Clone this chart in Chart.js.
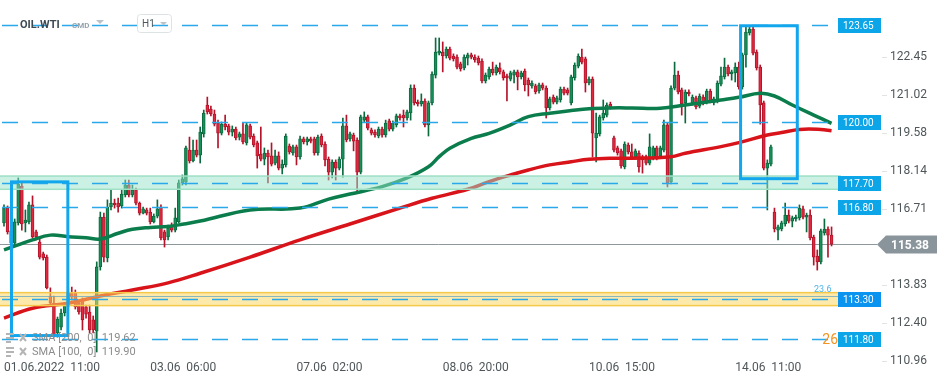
<!DOCTYPE html>
<html>
<head>
<meta charset="utf-8">
<script src="https://cdn.jsdelivr.net/npm/chart.js@4.4.1/dist/chart.umd.min.js"></script>
<style>
  html, body { margin: 0; padding: 0; background: #fff; }
  #wrap { width: 949px; height: 385px; }
</style>
</head>
<body>
<div id="wrap"><canvas id="chart" width="949" height="385"></canvas></div>
<script>
const FONT = 'Roboto, "Noto Sans", sans-serif';

// OIL.WTI, H1 candles
const opens = [
  116.18, 116.74, 115.88, 115.42, 116.18, 117.57, 116.18, 116.22, 116.86, 115.84,
  115.46, 115.01, 114.89, 113.42, 113.16, 112.03, 112.25, 112.78, 113.04, 113.54,
  113.54, 113.16, 113.27, 113.01, 112.82, 112.52, 112.10, 114.52, 116.40, 114.86,
  116.78, 116.93, 116.93, 116.82, 117.24, 117.61, 117.24, 117.42, 116.93, 116.55,
  116.67, 116.59, 116.22, 116.44, 116.78, 115.84, 115.65, 116.10, 115.91, 116.22,
  117.69, 117.73, 118.93, 118.52, 118.93, 118.74, 119.54, 120.63, 120.48, 120.29,
  119.95, 119.57, 119.91, 119.84, 119.61, 119.72, 119.42, 119.54, 119.20, 119.84,
  119.46, 119.20, 118.78, 118.59, 118.82, 118.71, 118.44, 118.71, 118.25, 118.37,
  119.08, 118.82, 119.05, 118.67, 119.35, 119.24, 119.35, 119.35, 118.82, 119.46,
  119.16, 118.59, 118.10, 118.48, 118.25, 118.59, 119.84, 119.35, 119.50, 119.31,
  118.10, 120.06, 120.18, 119.69, 119.61, 119.46, 119.72, 119.50, 120.03, 119.72,
  119.88, 120.22, 120.25, 120.14, 120.33, 121.27, 120.74, 120.67, 120.78, 119.88,
  120.71, 121.76, 122.59, 122.63, 122.48, 122.74, 122.48, 122.44, 122.18, 122.03,
  122.40, 122.52, 122.44, 122.40, 122.29, 121.54, 121.69, 121.99, 121.84, 122.03,
  121.88, 121.73, 121.61, 121.76, 121.88, 121.69, 121.91, 121.57, 121.35, 121.35,
  121.16, 121.39, 121.27, 120.52, 120.93, 120.74, 120.82, 121.23, 121.20, 120.71,
  121.65, 122.10, 122.44, 122.37, 121.46, 121.61, 119.39, 119.54, 120.14, 120.25,
  120.67, 119.39, 119.01, 118.90, 118.29, 119.12, 118.86, 118.67, 118.82, 118.67,
  118.67, 118.44, 118.63, 119.01, 118.71, 118.93, 119.88, 117.73, 121.27, 121.76,
  121.20, 120.71, 121.12, 120.71, 120.90, 120.59, 120.93, 120.74, 121.16, 120.71,
  120.78, 121.42, 121.69, 122.06, 121.80, 121.84, 122.06, 121.31, 122.52, 123.35,
  123.50, 122.63, 122.06, 120.71, 118.25, 118.40, 116.59, 115.91, 115.95, 116.14,
  116.48, 116.25, 116.33, 116.37, 116.71, 116.40, 116.48, 115.65, 114.93, 114.71,
  115.80, 115.95, 115.72
];
const highs = [
  116.86, 116.82, 115.99, 116.33, 117.88, 117.69, 116.67, 116.97, 117.20, 115.91,
  115.61, 115.08, 114.97, 113.73, 113.42, 112.63, 112.93, 113.12, 113.73, 113.76,
  113.65, 113.27, 113.35, 113.08, 113.08, 112.67, 114.71, 116.59, 116.55, 117.05,
  117.42, 117.08, 117.12, 117.42, 117.80, 117.80, 117.61, 117.50, 116.97, 116.78,
  116.74, 116.74, 116.52, 117.05, 116.86, 115.91, 116.10, 116.18, 116.74, 117.80,
  117.99, 119.08, 119.42, 119.31, 119.31, 119.80, 120.44, 120.93, 120.59, 120.44,
  120.06, 119.99, 120.25, 119.91, 119.84, 119.80, 119.61, 119.95, 119.95, 119.91,
  119.54, 119.27, 119.80, 119.01, 118.93, 119.20, 118.93, 118.86, 118.56, 119.54,
  119.16, 119.12, 119.12, 119.46, 119.42, 119.42, 119.42, 119.42, 119.50, 119.54,
  119.24, 118.67, 118.56, 118.56, 118.67, 120.14, 120.25, 119.61, 119.57, 119.39,
  120.25, 120.37, 120.25, 119.76, 119.69, 119.80, 119.80, 120.06, 120.10, 120.03,
  120.29, 120.29, 120.44, 120.44, 121.39, 121.39, 120.82, 121.05, 120.86, 120.78,
  121.88, 123.16, 123.16, 123.01, 122.82, 122.82, 122.56, 122.52, 122.25, 122.52,
  122.59, 122.59, 122.52, 122.48, 122.37, 121.84, 122.06, 122.25, 122.14, 122.22,
  121.95, 121.80, 121.91, 121.95, 121.95, 121.91, 121.99, 121.65, 121.54, 121.42,
  121.46, 121.46, 121.35, 120.93, 121.01, 120.97, 121.31, 121.31, 121.27, 121.76,
  122.22, 122.56, 122.74, 122.44, 121.69, 121.69, 120.33, 120.25, 120.82, 120.71,
  120.74, 119.46, 119.08, 118.97, 119.24, 119.20, 119.16, 118.97, 118.90, 118.74,
  118.74, 119.54, 119.08, 119.08, 119.08, 120.06, 119.95, 121.35, 122.25, 121.91,
  121.27, 121.20, 121.20, 121.01, 120.97, 121.05, 121.01, 121.23, 121.23, 120.93,
  121.54, 122.06, 122.40, 122.14, 121.95, 122.22, 122.25, 122.59, 123.57, 123.57,
  123.57, 122.71, 122.14, 120.78, 118.56, 119.12, 116.74, 116.10, 116.25, 116.93,
  116.67, 116.44, 116.48, 116.86, 116.82, 116.55, 116.67, 115.72, 115.16, 115.95,
  116.33, 116.03, 116.03
];
const lows = [
  116.06, 115.76, 115.31, 115.35, 116.10, 115.91, 115.84, 116.14, 115.61, 115.54,
  114.82, 114.78, 113.69, 113.08, 111.87, 111.87, 112.14, 112.67, 112.97, 113.27,
  112.93, 112.74, 112.14, 112.59, 112.03, 112.03, 111.31, 114.40, 114.71, 114.71,
  116.67, 116.74, 116.59, 116.74, 117.16, 117.16, 117.16, 116.86, 116.48, 116.52,
  116.48, 116.14, 116.18, 116.37, 115.54, 115.27, 115.54, 115.84, 115.84, 116.18,
  117.61, 117.61, 118.44, 118.48, 118.67, 118.44, 119.42, 120.29, 120.22, 119.84,
  119.01, 119.50, 119.69, 119.50, 119.46, 119.31, 119.31, 119.16, 119.12, 119.35,
  119.05, 118.25, 118.52, 118.37, 117.69, 118.33, 118.37, 118.18, 118.03, 118.29,
  118.78, 118.74, 118.37, 118.59, 119.16, 119.12, 119.20, 118.74, 118.74, 119.05,
  118.33, 117.80, 117.88, 117.80, 118.18, 117.91, 119.24, 119.27, 118.90, 117.31,
  118.03, 119.99, 119.69, 119.50, 119.42, 119.39, 119.42, 119.42, 119.65, 119.65,
  119.80, 120.06, 119.80, 120.06, 120.06, 120.63, 120.59, 120.59, 119.80, 119.46,
  120.63, 121.65, 122.52, 121.88, 122.40, 122.33, 122.29, 121.99, 121.91, 121.95,
  122.14, 122.37, 122.25, 122.14, 121.46, 121.46, 121.61, 121.76, 121.76, 121.80,
  121.57, 120.78, 121.54, 121.46, 121.20, 121.61, 121.16, 120.97, 121.27, 121.05,
  121.08, 121.20, 120.14, 120.44, 120.67, 120.67, 120.74, 121.01, 121.01, 120.63,
  121.57, 122.03, 122.18, 121.12, 121.39, 118.67, 118.48, 119.46, 120.06, 120.18,
  120.48, 118.86, 118.74, 118.25, 118.22, 118.78, 118.59, 118.59, 118.10, 118.06,
  118.37, 118.37, 118.56, 118.56, 118.63, 118.86, 117.54, 117.65, 121.20, 121.05,
  120.25, 119.95, 120.97, 120.63, 120.48, 120.52, 120.63, 120.67, 120.71, 120.63,
  120.71, 121.35, 121.61, 121.73, 121.57, 121.50, 121.23, 121.23, 122.06, 123.27,
  122.52, 121.95, 119.91, 118.18, 116.67, 118.33, 115.84, 115.54, 115.88, 116.06,
  116.18, 116.03, 116.25, 116.29, 116.33, 115.84, 115.54, 114.59, 114.40, 114.63,
  115.72, 114.89, 115.31
];
const closes = [
  116.74, 115.84, 115.42, 116.22, 117.65, 116.14, 116.29, 116.86, 115.65, 115.65,
  114.89, 114.86, 113.73, 113.16, 111.95, 112.55, 112.78, 113.04, 113.54, 113.38,
  113.01, 112.82, 112.52, 112.74, 112.14, 112.14, 114.52, 116.40, 114.89, 116.78,
  116.93, 116.86, 116.78, 117.27, 117.61, 117.24, 117.42, 116.93, 116.55, 116.71,
  116.55, 116.22, 116.44, 116.71, 115.61, 115.54, 115.99, 115.91, 116.37, 117.69,
  117.84, 119.01, 118.52, 118.93, 118.74, 119.61, 120.33, 120.37, 120.29, 119.91,
  119.57, 119.91, 119.80, 119.61, 119.72, 119.39, 119.54, 119.24, 119.88, 119.42,
  119.12, 118.71, 118.59, 118.82, 118.67, 118.40, 118.71, 118.25, 118.40, 119.46,
  118.86, 119.05, 118.67, 119.35, 119.24, 119.35, 119.27, 118.82, 119.42, 119.12,
  118.56, 118.10, 118.48, 118.25, 118.59, 119.84, 119.31, 119.54, 119.27, 118.10,
  120.18, 120.18, 119.76, 119.57, 119.50, 119.72, 119.50, 119.95, 119.72, 119.95,
  120.22, 120.14, 120.14, 120.37, 121.27, 120.71, 120.67, 120.78, 119.88, 120.71,
  121.80, 122.63, 122.67, 122.48, 122.74, 122.40, 122.37, 122.06, 121.99, 122.44,
  122.52, 122.44, 122.33, 122.22, 121.54, 121.76, 121.99, 121.84, 122.06, 121.88,
  121.65, 121.65, 121.84, 121.88, 121.69, 121.84, 121.39, 121.39, 121.46, 121.12,
  121.39, 121.27, 120.52, 120.86, 120.74, 120.90, 121.23, 121.08, 121.08, 121.69,
  122.14, 122.48, 122.25, 121.46, 121.61, 119.57, 119.57, 120.18, 120.33, 120.63,
  120.56, 118.93, 118.82, 118.33, 119.16, 118.86, 118.67, 118.90, 118.29, 118.56,
  118.44, 119.05, 119.01, 118.63, 119.01, 119.88, 117.69, 121.27, 121.76, 121.12,
  120.67, 121.12, 121.05, 120.93, 120.56, 120.97, 120.71, 121.16, 120.78, 120.86,
  121.46, 121.73, 122.06, 121.80, 121.88, 122.06, 121.31, 122.52, 123.38, 123.50,
  122.59, 122.03, 120.63, 118.25, 118.44, 119.05, 115.95, 116.03, 116.18, 116.48,
  116.25, 116.37, 116.40, 116.74, 116.40, 116.48, 115.61, 114.89, 114.71, 115.88,
  115.95, 115.72, 115.38
];

// moving averages, read at a few candles
const sma100At = [0, 8, 13, 18, 23, 27, 32, 36, 41, 46, 50, 55, 69, 83, 91, 97, 106, 113, 119, 122, 125, 131, 136, 142, 147, 153, 159, 164, 170, 176, 184, 191, 201, 206, 212, 216, 221, 227, 232];
const sma100 = [115.16, 115.54, 115.72, 115.66, 115.62, 115.57, 115.79, 115.94, 116.01, 116.05, 116.13, 116.25, 116.67, 116.74, 117.08, 117.27, 117.55, 117.88, 118.30, 118.68, 119.00, 119.37, 119.56, 119.88, 120.19, 120.32, 120.42, 120.49, 120.52, 120.52, 120.51, 120.63, 120.82, 120.92, 121.07, 120.97, 120.63, 120.25, 119.94];
const sma200At = [0, 8, 18, 27, 36, 46, 55, 69, 83, 97, 111, 120, 130, 136, 142, 147, 153, 159, 164, 170, 176, 187, 191, 201, 206, 214, 218, 223, 229, 232];
const sma200 = [112.59, 112.96, 113.15, 113.42, 113.65, 113.92, 114.28, 114.89, 115.54, 116.14, 116.74, 117.11, 117.45, 117.74, 117.99, 118.18, 118.37, 118.49, 118.58, 118.62, 118.62, 118.68, 118.81, 119.06, 119.21, 119.50, 119.59, 119.71, 119.71, 119.66];

const timeTicks = [0, 41, 82, 123, 164, 205];
const timeLabels = ['01.06.2022  11:00', '03.06  06:00', '07.06  02:00', '08.06  20:00', '10.06  15:00', '14.06  11:00'];
const priceTicks = [110.96, 112.40, 113.83, 116.71, 118.14, 119.58, 121.02, 122.45];

const levels = [123.65, 120.00, 117.70, 116.80, 113.30, 111.80];
const lastPrice = 115.38;
const greenZone = [117.45, 117.95];
const yellowZone = [113.06, 113.55];
const fib236 = 113.42;
const boxes = [[2.1, 17.9, 111.93, 117.73], [206.5, 222.4, 117.85, 123.62]];

const GREEN = '#17905a', GREEN_D = '#0b6b3f';
const RED = '#e0283f', RED_D = '#b3142a';
const idx = opens.map((_, i) => i);
const up = idx.map(i => closes[i] >= opens[i]);

function rrect(ctx, x, y, w, h, r) {
  ctx.beginPath();
  ctx.moveTo(x + r, y);
  ctx.arcTo(x + w, y, x + w, y + h, r);
  ctx.arcTo(x + w, y + h, x, y + h, r);
  ctx.arcTo(x, y + h, x, y, r);
  ctx.arcTo(x, y, x + w, y, r);
  ctx.closePath();
}

const overlay = {
  id: 'overlay',
  beforeDatasetsDraw(chart) {
    const { ctx, chartArea: a, scales: { y } } = chart;
    ctx.save();
    ctx.strokeStyle = '#8d979c';
    ctx.lineWidth = 1;
    const py = Math.round(y.getPixelForValue(lastPrice)) + 0.5;
    ctx.beginPath(); ctx.moveTo(a.left, py); ctx.lineTo(877, py); ctx.stroke();
    ctx.restore();
  },
  afterDatasetsDraw(chart) {
    const { ctx, chartArea: a, scales: { x, y } } = chart;
    ctx.save();
    // zones
    const zone = (lo, hi, fill, edge) => {
      const t = y.getPixelForValue(hi), b = y.getPixelForValue(lo);
      ctx.fillStyle = fill;
      ctx.fillRect(a.left, t, a.right + 2 - a.left, b - t);
      ctx.strokeStyle = edge; ctx.lineWidth = 1.5;
      ctx.strokeRect(a.left - 2, t, a.right + 4 - a.left, b - t);
    };
    zone(greenZone[0], greenZone[1], 'rgba(150,228,200,0.5)', '#9ee0c6');
    zone(yellowZone[0], yellowZone[1], 'rgba(252,216,100,0.55)', '#f4c94a');
    // fib level
    ctx.strokeStyle = 'rgba(110,170,190,0.8)'; ctx.lineWidth = 1;
    let fy = Math.round(y.getPixelForValue(fib236)) + 0.5;
    ctx.beginPath(); ctx.moveTo(a.left, fy); ctx.lineTo(a.right, fy); ctx.stroke();
    // dashed levels
    ctx.strokeStyle = '#29a9ea'; ctx.lineWidth = 1.5;
    ctx.setLineDash([16, 14]);
    levels.forEach(v => {
      const ly = Math.round(y.getPixelForValue(v)) + 0.5;
      ctx.beginPath(); ctx.moveTo(a.left + 2, ly); ctx.lineTo(a.right, ly); ctx.stroke();
    });
    ctx.setLineDash([]);
    // boxes
    ctx.strokeStyle = '#12a6ec'; ctx.lineWidth = 3;
    boxes.forEach(([i0, i1, p0, p1]) => {
      const x0 = x.getPixelForValue(i0), x1 = x.getPixelForValue(i1);
      const y0 = y.getPixelForValue(p1), y1 = y.getPixelForValue(p0);
      ctx.strokeRect(x0, y0, x1 - x0, y1 - y0);
    });
    ctx.restore();
  },
  afterDraw(chart) {
    const { ctx, chartArea: a, scales: { y } } = chart;
    ctx.save();
    ctx.textBaseline = 'middle';
    // price tick marks
    ctx.strokeStyle = '#e3e3e3'; ctx.lineWidth = 1;
    priceTicks.forEach(v => {
      const ty = Math.round(y.getPixelForValue(v)) + 0.5;
      ctx.beginPath(); ctx.moveTo(882, ty); ctx.lineTo(887, ty); ctx.stroke();
    });
    // level tags
    ctx.font = '10px ' + FONT;
    levels.forEach(v => {
      const ty = y.getPixelForValue(v);
      ctx.fillStyle = v === 113.30 ? '#0b93f0' : '#0ba5e8';
      ctx.fillRect(a.right, Math.round(ty) - 7, 43, 15);
      ctx.fillStyle = '#fff';
      ctx.fillText(v.toFixed(2), a.right + 5, Math.round(ty) + 1);
    });
    // last price tag
    const ly = Math.round(y.getPixelForValue(lastPrice)) + 0.5;
    ctx.fillStyle = '#8a959b';
    ctx.beginPath();
    ctx.moveTo(877, ly); ctx.lineTo(886, ly - 9); ctx.lineTo(937, ly - 9);
    ctx.lineTo(937, ly + 9); ctx.lineTo(886, ly + 9); ctx.closePath(); ctx.fill();
    ctx.fillStyle = '#fff';
    ctx.font = 'bold 12px ' + FONT;
    ctx.fillText(lastPrice.toFixed(2), 891, ly + 1);
    // fib labels
    ctx.fillStyle = '#4db6ea'; ctx.font = '9px ' + FONT;
    ctx.fillText('23.6', 814, Math.round(y.getPixelForValue(fib236)) - 6);
    ctx.fillStyle = '#f39322'; ctx.font = '14px ' + FONT;
    ctx.textAlign = 'right';
    ctx.fillText('26', a.right, Math.round(y.getPixelForValue(111.80)) + 1);
    ctx.textAlign = 'left';
    // header
    ctx.fillStyle = '#3b4a53'; ctx.font = 'bold 11px ' + FONT;
    ctx.fillText('OIL.WTI', 20, 25);
    ctx.fillStyle = '#93a3ad'; ctx.font = 'bold 8px ' + FONT;
    ctx.fillText('CMD', 72, 26);
    ctx.fillStyle = '#b9c3c9';
    ctx.beginPath(); ctx.moveTo(96, 20); ctx.lineTo(104, 20); ctx.lineTo(100, 24); ctx.closePath(); ctx.fill();
    ctx.strokeStyle = '#dde2e5'; ctx.lineWidth = 1;
    rrect(ctx, 137.5, 14.5, 34, 18, 3); ctx.stroke();
    ctx.fillStyle = '#4a5961'; ctx.font = '10px ' + FONT;
    ctx.fillText('H1', 142, 24);
    ctx.fillStyle = '#b9c3c9';
    ctx.beginPath(); ctx.moveTo(160, 22); ctx.lineTo(167, 22); ctx.lineTo(163.5, 25.5); ctx.closePath(); ctx.fill();
    // legend of the averages
    const leg = [['SMA [200,  0]  119.62', 338], ['SMA [100,  0]  119.90', 352]];
    leg.forEach(([t, yy]) => {
      ctx.fillStyle = '#b5b5b5';
      ctx.fillRect(6, yy - 5, 8, 2); ctx.fillRect(6, yy - 1, 8, 2); ctx.fillRect(6, yy + 3, 5, 2);
      ctx.strokeStyle = '#b5b5b5'; ctx.lineWidth = 2;
      ctx.beginPath(); ctx.moveTo(20, yy - 4); ctx.lineTo(26, yy + 3); ctx.moveTo(26, yy - 4); ctx.lineTo(20, yy + 3); ctx.stroke();
      ctx.fillStyle = '#8c8c8c'; ctx.font = '11px ' + FONT;
      ctx.fillText(t, 32, yy);
    });
    ctx.restore();
  }
};

new Chart(document.getElementById('chart'), {
  data: {
    datasets: [
      {
        type: 'line', label: 'SMA 100',
        data: sma100At.map((v, k) => ({ x: v, y: sma100[k] })),
        borderColor: '#0b7d4c', borderWidth: 3.5, pointRadius: 0, tension: 0.4, order: 0
      },
      {
        type: 'line', label: 'SMA 200',
        data: sma200At.map((v, k) => ({ x: v, y: sma200[k] })),
        borderColor: '#d8131a', borderWidth: 3.5, pointRadius: 0, tension: 0.4, order: 0
      },
      {
        type: 'bar', label: 'wick',
        data: idx.map(i => ({ x: i, y: [lows[i], highs[i]] })),
        backgroundColor: idx.map(i => up[i] ? GREEN_D : RED_D),
        barThickness: 1, grouped: false, order: 2
      },
      {
        type: 'bar', label: 'body',
        data: idx.map(i => ({ x: i, y: [opens[i], closes[i]] })),
        backgroundColor: idx.map(i => up[i] ? GREEN : RED),
        borderColor: idx.map(i => up[i] ? GREEN_D : RED_D),
        borderWidth: 1, borderSkipped: false,
        barThickness: 3, grouped: false, order: 1
      }
    ]
  },
  options: {
    responsive: false,
    animation: false,
    layout: { padding: 0 },
    plugins: { legend: { display: false }, tooltip: { enabled: false } },
    scales: {
      x: {
        type: 'linear', min: -1.12, max: 233.81, offset: false,
        grid: { display: false, drawTicks: false }, border: { display: false },
        afterBuildTicks: s => { s.ticks = timeTicks.map(v => ({ value: v })); },
        afterFit: s => { s.height = 24; s.paddingLeft = 0; s.paddingRight = 0; },
        ticks: {
          autoSkip: false, maxRotation: 0, align: 'start', padding: 0,
          color: '#4f5659', font: { family: FONT, size: 12 },
          callback: v => timeLabels[timeTicks.indexOf(v)]
        }
      },
      y: {
        type: 'linear', position: 'right', min: 110.97, max: 124.593,
        grid: { display: false, drawTicks: false }, border: { display: false },
        afterBuildTicks: s => { s.ticks = priceTicks.map(v => ({ value: v })); },
        afterFit: s => { s.width = 111; s.paddingTop = 0; s.paddingBottom = 0; },
        ticks: {
          padding: 52, color: '#4f5659', font: { family: FONT, size: 12 },
          callback: v => v.toFixed(2)
        }
      }
    }
  },
  plugins: [overlay]
});
</script>
</body>
</html>
